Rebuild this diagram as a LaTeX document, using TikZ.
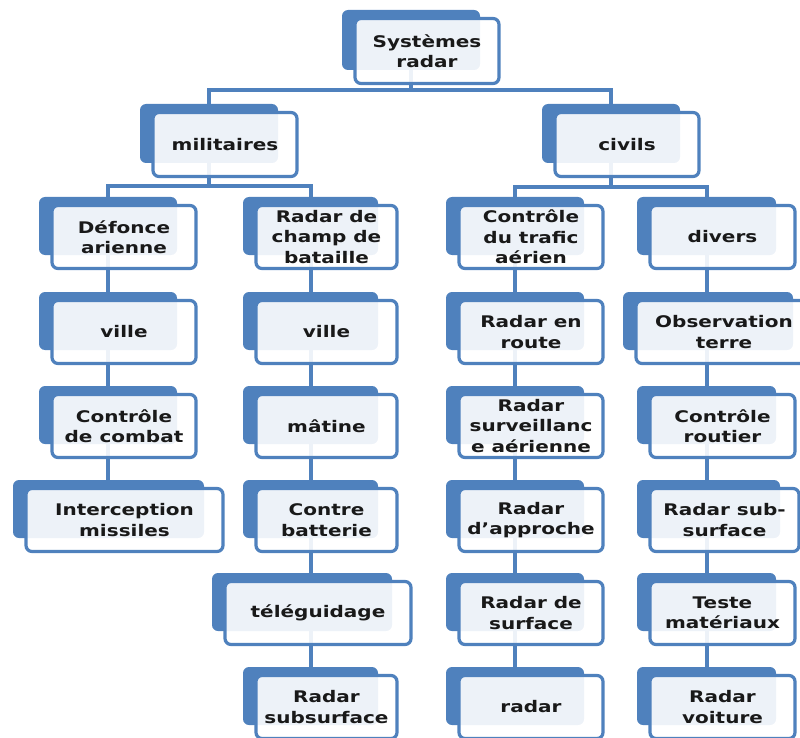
\documentclass[tikz,border=0pt]{standalone}
\usepackage{fontspec}
\newfontfamily\bxfont{DejaVu Sans}[FakeStretch=1.25]
\usetikzlibrary{backgrounds}
\definecolor{rblue}{HTML}{4F81BD}
\tikzset{
 backbox/.style={fill=rblue, draw=none, rounded corners=6pt, inner sep=0pt, outer sep=0pt},
 frontbox/.style={fill=white, fill opacity=0.9, text opacity=1, draw=rblue, line width=3.2pt,
   rounded corners=6pt, inner sep=0pt, outer sep=0pt, align=center,
   font=\bxfont\bfseries\fontsize{16}{20.5}\selectfont, text=black!90},
 link/.style={draw=rblue, line width=4pt}
}
\newcommand\rbox[6]{%
 \node[backbox, minimum width={#3-#2}, minimum height={#5-#4}] (#1b) at ({(#2+#3)/2},{(#4+#5)/2}) {};
 \node[frontbox, minimum width={#3-#2+6}, minimum height={#5-#4+5}] (#1) at ({(#2+#3)/2+16},{(#4+#5)/2+11}) {#6};
}
\begin{document}
\begin{tikzpicture}[x=1pt,y=-1pt]
\useasboundingbox (0,0) rectangle (800,738);
% top levels
\rbox{root}{342}{480}{10}{70}{Systèmes\\radar}
\rbox{mil}{140}{278}{104}{163}{militaires}
\rbox{civ}{542}{680}{104}{163}{civils}
% column 1
\rbox{a1}{39}{177}{197}{255}{Défonce\\arienne}
\rbox{a2}{39}{177}{292}{350}{ville}
\rbox{a3}{39}{177}{386}{444}{Contrôle\\de combat}
\rbox{a4}{13}{204}{480}{538}{Interception\\missiles}
% column 2
\rbox{b1}{243}{378}{197}{255}{Radar de\\champ de\\bataille}
\rbox{b2}{243}{378}{292}{350}{ville}
\rbox{b3}{243}{378}{386}{444}{mâtine}
\rbox{b4}{243}{378}{480}{538}{Contre\\batterie}
\rbox{b5}{212}{392}{573}{631}{téléguidage}
\rbox{b6}{243}{378}{667}{725}{Radar\\subsurface}
% column 3
\rbox{c1}{446}{584}{197}{255}{Contrôle\\du trafic\\aérien}
\rbox{c2}{446}{584}{292}{350}{Radar en\\route}
\rbox{c3}{446}{584}{386}{444}{Radar\\surveillanc\\e aérienne}
\rbox{c4}{446}{584}{480}{538}{Radar\\d’approche}
\rbox{c5}{446}{584}{573}{631}{Radar de\\surface}
\rbox{c6}{446}{584}{667}{725}{radar}
% column 4
\rbox{d1}{637}{776}{197}{255}{divers}
\rbox{d2}{623}{793}{292}{350}{Observation\\terre}
\rbox{d3}{637}{776}{386}{444}{Contrôle\\routier}
\rbox{d4}{637}{780}{480}{538}{Radar sub-\\surface}
\rbox{d5}{637}{776}{573}{631}{Teste\\matériaux}
\rbox{d6}{637}{776}{667}{725}{Radar\\voiture}
\begin{pgfonlayer}{background}
\coordinate (jt) at (411,90);
\coordinate (jm) at (209,186);
\coordinate (jc) at (611,187);
\draw[link] (rootb.south) -- (jt);
\draw[link] (jt) -| (milb.north);
\draw[link] (jt) -| (civb.north);
\draw[link] (milb.south) -- (jm);
\draw[link] (jm) -| (a1b.north);
\draw[link] (jm) -| (b1b.north);
\draw[link] (civb.south) -- (jc);
\draw[link] (jc) -| (c1b.north);
\draw[link] (jc) -| (d1b.north);
% column 1
\draw[link] (a1b.south) -- (a2b.north);
\draw[link] (a2b.south) -- (a3b.north);
\draw[link] (a3b.south) -- (a3b.south |- a4b.north);
% column 2
\draw[link] (b1b.south) -- (b2b.north);
\draw[link] (b2b.south) -- (b3b.north);
\draw[link] (b3b.south) -- (b4b.north);
\draw[link] (b4b.south) -- (b4b.south |- b5b.north);
\draw[link] (b6b.north |- b5b.south) -- (b6b.north);
% column 3
\draw[link] (c1b.south) -- (c2b.north);
\draw[link] (c2b.south) -- (c3b.north);
\draw[link] (c3b.south) -- (c4b.north);
\draw[link] (c4b.south) -- (c5b.north);
\draw[link] (c5b.south) -- (c6b.north);
% column 4
\draw[link] (d1b.south) -- (d1b.south |- d2b.north);
\draw[link] (d1b.south |- d2b.south) -- (d3b.north);
\draw[link] (d3b.south) -- (d3b.south |- d4b.north);
\draw[link] (d3b.south |- d4b.south) -- (d5b.north);
\draw[link] (d5b.south) -- (d6b.north);
\end{pgfonlayer}
\end{tikzpicture}
\end{document}
